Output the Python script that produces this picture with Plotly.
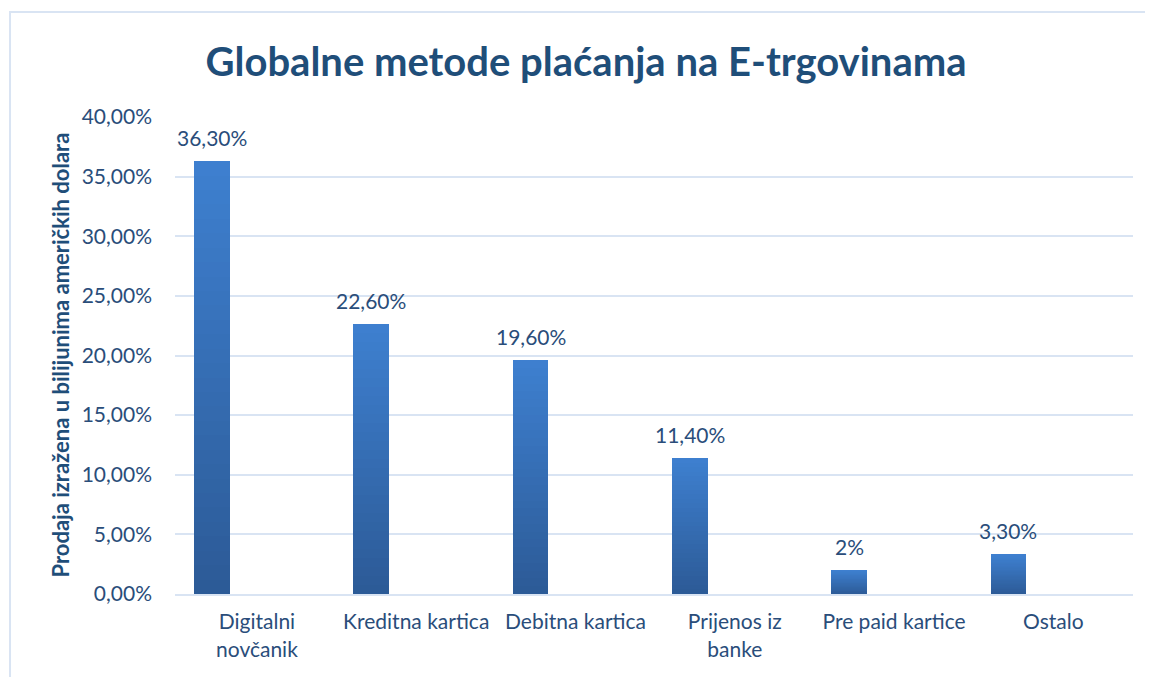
import plotly.graph_objects as go

categories = ["Digitalni<br>novčanik", "Kreditna kartica", "Debitna kartica",
              "Prijenos iz<br>banke", "Pre paid kartice", "Ostalo"]
values = [0.363, 0.226, 0.196, 0.114, 0.02, 0.033]
value_labels = ["36,30%", "22,60%", "19,60%", "11,40%", "2%", "3,30%"]
y_ticks = [0, 0.05, 0.10, 0.15, 0.20, 0.25, 0.30, 0.35, 0.40]

TEXT = "#2A4D7A"
TITLE = "#1F4E79"
GRID = "#D9E4F3"
FONT = "Lato, Open Sans, sans-serif"

top_rgb = (62, 128, 208)
bot_rgb = (44, 90, 150)
K = 30
BAR_W = 0.225
BAR_OFF = -0.282

W, H = 1145, 669

fig = go.Figure()
for j in range(K):
    t = (j + 0.5) / K
    c = tuple(round(bot_rgb[i] + (top_rgb[i] - bot_rgb[i]) * t) for i in range(3))
    fig.add_trace(go.Bar(
        x=categories,
        y=[v / K for v in values],
        width=BAR_W,
        offset=BAR_OFF - BAR_W / 2,
        marker=dict(color="rgb(%d,%d,%d)" % c, line=dict(width=0)),
        showlegend=False,
        hoverinfo="skip",
    ))

for i, (v, lab) in enumerate(zip(values, value_labels)):
    fig.add_annotation(
        x=i + BAR_OFF, y=v, xref="x", yref="y",
        text=lab, showarrow=False, yshift=24, yanchor="middle",
        font=dict(family=FONT, size=21, color=TEXT),
    )

fig.add_annotation(
    x=-0.12, y=0.5, xref="paper", yref="paper",
    text="<b>Prodaja izražena u bilijunima američkih dolara</b>",
    textangle=-90, showarrow=False, xanchor="center", yanchor="middle",
    font=dict(family=FONT, size=22, color=TITLE),
)

# chart border
fig.add_shape(type="rect", xref="paper", yref="paper",
              x0=-0.1722, x1=1.08, y0=-0.35, y1=1.2201,
              line=dict(color=GRID, width=2), fillcolor="rgba(0,0,0,0)", layer="below")

fig.update_layout(
    width=W, height=H,
    margin=dict(l=167, r=20, t=109, b=83),
    paper_bgcolor="white", plot_bgcolor="white",
    barmode="stack",
    separators=",.",
    font=dict(family=FONT, color=TEXT),
    title=dict(
        text="<b>Globalne metode plaćanja na E-trgovinama</b>",
        x=578 / W, xanchor="center", y=1 - 54 / H, yanchor="middle",
        font=dict(family=FONT, size=40, color=TITLE),
    ),
    xaxis=dict(
        showgrid=False, showline=True, linecolor=GRID, linewidth=2,
        tickfont=dict(family=FONT, size=21, color=TEXT),
        ticks="", ticklabelstandoff=8,
    ),
    yaxis=dict(
        range=[0, 0.4], tickvals=y_ticks, tickformat=".2%",
        showgrid=True, gridcolor=GRID, gridwidth=2,
        zeroline=False, showline=False,
        tickfont=dict(family=FONT, size=21, color=TEXT),
        ticks="", ticklabelstandoff=22,
    ),
)

fig.write_html("out.html")
